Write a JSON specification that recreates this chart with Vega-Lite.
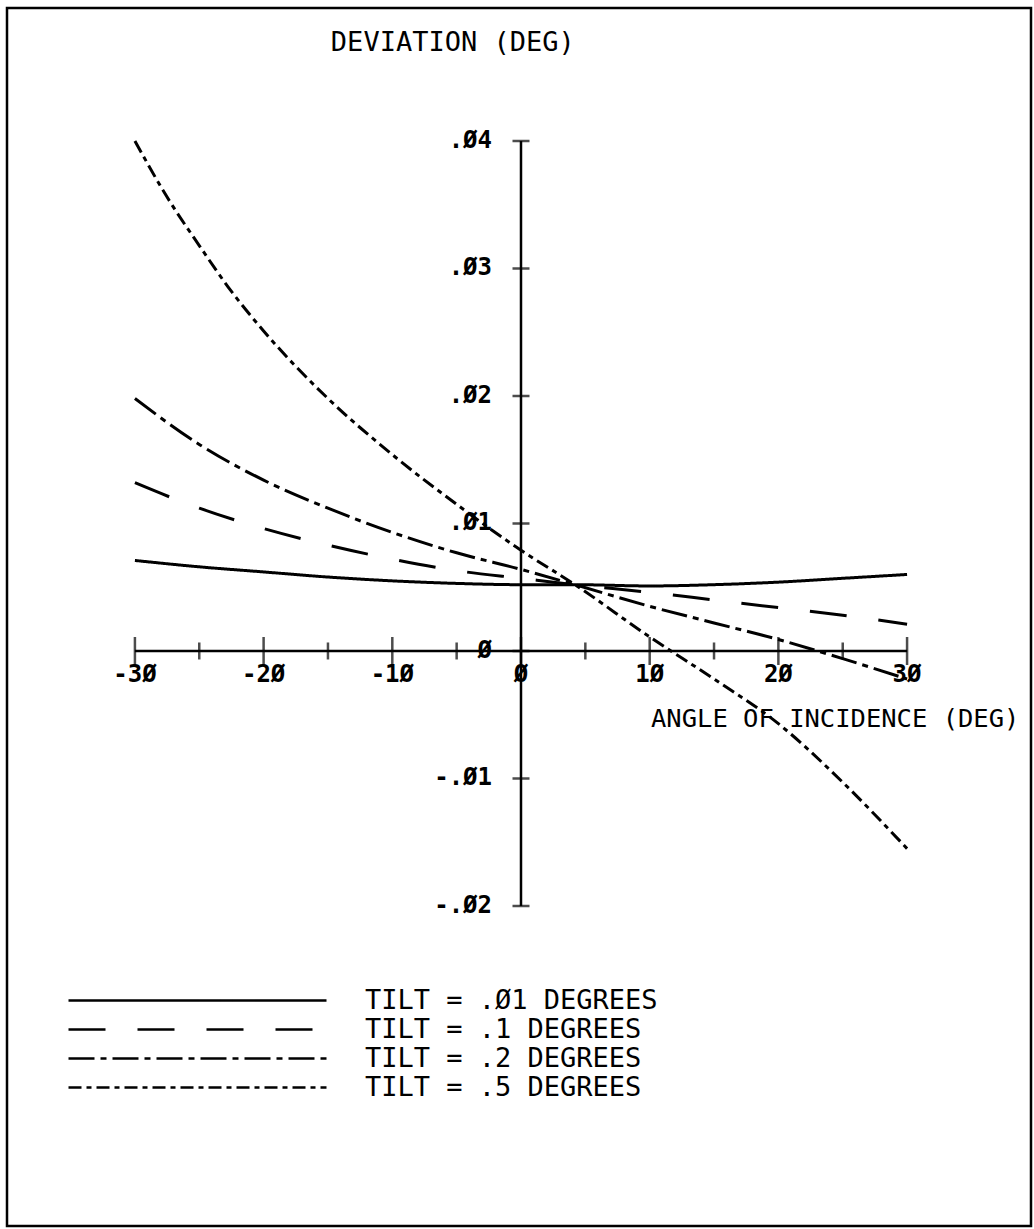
{
  "$schema": "https://vega.github.io/schema/vega-lite/v6.json",
  "width": 1034,
  "height": 1229,
  "autosize": {"type": "fit", "contains": "padding"},
  "padding": {"left": 7, "top": 8, "right": 3, "bottom": 3},
  "background": "white",
  "config": {
    "view": {"stroke": "black", "strokeWidth": 2.5},
    "text": {"font": "DejaVu Sans Mono", "color": "black"}
  },
  "datasets": {
    "curves": [
      {"tilt": "TILT = .Ø1 DEGREES", "angle": -30, "dev": 0.0071},
      {"tilt": "TILT = .Ø1 DEGREES", "angle": -25, "dev": 0.0066},
      {"tilt": "TILT = .Ø1 DEGREES", "angle": -20, "dev": 0.0062},
      {"tilt": "TILT = .Ø1 DEGREES", "angle": -15, "dev": 0.0058},
      {"tilt": "TILT = .Ø1 DEGREES", "angle": -10, "dev": 0.0055},
      {"tilt": "TILT = .Ø1 DEGREES", "angle": -5, "dev": 0.0053},
      {"tilt": "TILT = .Ø1 DEGREES", "angle": 0, "dev": 0.0052},
      {"tilt": "TILT = .Ø1 DEGREES", "angle": 4.2, "dev": 0.0052},
      {"tilt": "TILT = .Ø1 DEGREES", "angle": 10, "dev": 0.0051},
      {"tilt": "TILT = .Ø1 DEGREES", "angle": 15, "dev": 0.0052},
      {"tilt": "TILT = .Ø1 DEGREES", "angle": 20, "dev": 0.0054},
      {"tilt": "TILT = .Ø1 DEGREES", "angle": 25, "dev": 0.0057},
      {"tilt": "TILT = .Ø1 DEGREES", "angle": 30, "dev": 0.0060},
      {"tilt": "TILT = .1 DEGREES", "angle": -30, "dev": 0.0132},
      {"tilt": "TILT = .1 DEGREES", "angle": -25, "dev": 0.0112},
      {"tilt": "TILT = .1 DEGREES", "angle": -20, "dev": 0.0096},
      {"tilt": "TILT = .1 DEGREES", "angle": -15, "dev": 0.0083},
      {"tilt": "TILT = .1 DEGREES", "angle": -10, "dev": 0.0072},
      {"tilt": "TILT = .1 DEGREES", "angle": -5, "dev": 0.0063},
      {"tilt": "TILT = .1 DEGREES", "angle": 0, "dev": 0.0057},
      {"tilt": "TILT = .1 DEGREES", "angle": 4.2, "dev": 0.0052},
      {"tilt": "TILT = .1 DEGREES", "angle": 10, "dev": 0.0046},
      {"tilt": "TILT = .1 DEGREES", "angle": 15, "dev": 0.0040},
      {"tilt": "TILT = .1 DEGREES", "angle": 20, "dev": 0.0034},
      {"tilt": "TILT = .1 DEGREES", "angle": 25, "dev": 0.0028},
      {"tilt": "TILT = .1 DEGREES", "angle": 30, "dev": 0.0021},
      {"tilt": "TILT = .2 DEGREES", "angle": -30, "dev": 0.0198},
      {"tilt": "TILT = .2 DEGREES", "angle": -25, "dev": 0.0162},
      {"tilt": "TILT = .2 DEGREES", "angle": -20, "dev": 0.0134},
      {"tilt": "TILT = .2 DEGREES", "angle": -15, "dev": 0.0112},
      {"tilt": "TILT = .2 DEGREES", "angle": -10, "dev": 0.0093},
      {"tilt": "TILT = .2 DEGREES", "angle": -5, "dev": 0.0077},
      {"tilt": "TILT = .2 DEGREES", "angle": 0, "dev": 0.0064},
      {"tilt": "TILT = .2 DEGREES", "angle": 4.2, "dev": 0.0052},
      {"tilt": "TILT = .2 DEGREES", "angle": 10, "dev": 0.0035},
      {"tilt": "TILT = .2 DEGREES", "angle": 15, "dev": 0.0022},
      {"tilt": "TILT = .2 DEGREES", "angle": 20, "dev": 0.0009},
      {"tilt": "TILT = .2 DEGREES", "angle": 25, "dev": -0.0006},
      {"tilt": "TILT = .2 DEGREES", "angle": 30, "dev": -0.0022},
      {"tilt": "TILT = .5 DEGREES", "angle": -30, "dev": 0.0400},
      {"tilt": "TILT = .5 DEGREES", "angle": -27.5, "dev": 0.0356},
      {"tilt": "TILT = .5 DEGREES", "angle": -25, "dev": 0.0318},
      {"tilt": "TILT = .5 DEGREES", "angle": -22.5, "dev": 0.0282},
      {"tilt": "TILT = .5 DEGREES", "angle": -20, "dev": 0.0251},
      {"tilt": "TILT = .5 DEGREES", "angle": -15, "dev": 0.0198},
      {"tilt": "TILT = .5 DEGREES", "angle": -10, "dev": 0.0154},
      {"tilt": "TILT = .5 DEGREES", "angle": -5, "dev": 0.0115},
      {"tilt": "TILT = .5 DEGREES", "angle": 0, "dev": 0.0079},
      {"tilt": "TILT = .5 DEGREES", "angle": 4.2, "dev": 0.0052},
      {"tilt": "TILT = .5 DEGREES", "angle": 10, "dev": 0.0011},
      {"tilt": "TILT = .5 DEGREES", "angle": 15, "dev": -0.0022},
      {"tilt": "TILT = .5 DEGREES", "angle": 20, "dev": -0.0057},
      {"tilt": "TILT = .5 DEGREES", "angle": 25, "dev": -0.0103},
      {"tilt": "TILT = .5 DEGREES", "angle": 30, "dev": -0.0155}
    ],
    "xticks": [
      {"v": -30, "major": true, "label": "-3Ø"},
      {"v": -25, "major": false, "label": ""},
      {"v": -20, "major": true, "label": "-2Ø"},
      {"v": -15, "major": false, "label": ""},
      {"v": -10, "major": true, "label": "-1Ø"},
      {"v": -5, "major": false, "label": ""},
      {"v": 0, "major": true, "label": "Ø"},
      {"v": 5, "major": false, "label": ""},
      {"v": 10, "major": true, "label": "1Ø"},
      {"v": 15, "major": false, "label": ""},
      {"v": 20, "major": true, "label": "2Ø"},
      {"v": 25, "major": false, "label": ""},
      {"v": 30, "major": true, "label": "3Ø"}
    ],
    "yticks": [
      {"v": 0.04, "label": ".Ø4"},
      {"v": 0.03, "label": ".Ø3"},
      {"v": 0.02, "label": ".Ø2"},
      {"v": 0.01, "label": ".Ø1"},
      {"v": 0, "label": "Ø"},
      {"v": -0.01, "label": "-.Ø1"},
      {"v": -0.02, "label": "-.Ø2"}
    ]
  },
  "encoding": {
    "x": {"type": "quantitative", "scale": {"domain": [-39.94, 39.63], "nice": false, "zero": false}, "axis": null},
    "y": {"type": "quantitative", "scale": {"domain": [-0.0451, 0.05043], "nice": false, "zero": false}, "axis": null}
  },
  "layer": [
    {
      "data": {"values": [{}]},
      "mark": {"type": "rule", "color": "black", "strokeWidth": 2.5},
      "encoding": {"x": {"datum": -30, "type": "quantitative"}, "x2": {"datum": 30}, "y": {"datum": 0, "type": "quantitative"}}
    },
    {
      "data": {"values": [{}]},
      "mark": {"type": "rule", "color": "black", "strokeWidth": 2.5},
      "encoding": {"y": {"datum": -0.02, "type": "quantitative"}, "y2": {"datum": 0.04}, "x": {"datum": 0, "type": "quantitative"}}
    },
    {
      "data": {"name": "xticks"},
      "mark": {"type": "tick", "orient": "vertical", "color": "black", "thickness": 2.5},
      "encoding": {
        "x": {"field": "v", "type": "quantitative"},
        "y": {"datum": 0, "type": "quantitative"},
        "size": {"condition": {"test": "datum.major", "value": 28}, "value": 17}
      }
    },
    {
      "data": {"name": "xticks"},
      "transform": [{"filter": "datum.major"}],
      "mark": {"type": "text", "fontSize": 24, "fontWeight": "bold", "align": "center", "baseline": "middle", "dy": 24},
      "encoding": {
        "x": {"field": "v", "type": "quantitative"},
        "y": {"datum": 0, "type": "quantitative"},
        "text": {"field": "label"}
      }
    },
    {
      "data": {"name": "yticks"},
      "mark": {"type": "tick", "orient": "horizontal", "color": "black", "thickness": 2.5, "size": 17},
      "encoding": {
        "y": {"field": "v", "type": "quantitative"},
        "x": {"datum": 0, "type": "quantitative"}
      }
    },
    {
      "data": {"name": "yticks"},
      "mark": {"type": "text", "fontSize": 24, "fontWeight": "bold", "align": "right", "baseline": "middle", "dx": -29},
      "encoding": {
        "y": {"field": "v", "type": "quantitative"},
        "x": {"datum": 0, "type": "quantitative"},
        "text": {"field": "label"}
      }
    },
    {
      "data": {"values": [{"t": "DEVIATION  (DEG)"}]},
      "mark": {"type": "text", "fontSize": 27, "align": "center", "baseline": "middle"},
      "encoding": {
        "x": {"datum": -5.3, "type": "quantitative"},
        "y": {"datum": 0.0477, "type": "quantitative"},
        "text": {"field": "t"}
      }
    },
    {
      "data": {"values": [{"t": "ANGLE OF INCIDENCE (DEG)"}]},
      "mark": {"type": "text", "fontSize": 25.5, "align": "left", "baseline": "middle"},
      "encoding": {
        "x": {"datum": 10.1, "type": "quantitative"},
        "y": {"datum": -0.0053, "type": "quantitative"},
        "text": {"field": "t"}
      }
    },
    {
      "data": {"name": "curves"},
      "mark": {"type": "line", "color": "black", "strokeWidth": 3, "interpolate": "monotone"},
      "encoding": {
        "x": {"field": "angle", "type": "quantitative"},
        "y": {"field": "dev", "type": "quantitative"},
        "strokeDash": {
          "field": "tilt",
          "type": "nominal",
          "scale": {
            "domain": ["TILT = .Ø1 DEGREES", "TILT = .1 DEGREES", "TILT = .2 DEGREES", "TILT = .5 DEGREES"],
            "range": [[1, 0], [37, 32], [26, 6, 6, 6], [13, 5, 5, 5]]
          },
          "legend": {
            "orient": "none",
            "legendX": 60,
            "legendY": 978,
            "title": null,
            "symbolType": "stroke",
            "symbolSize": 66564,
            "symbolStrokeWidth": 2.5,
            "symbolStrokeColor": "black",
            "clipHeight": 29,
            "labelFont": "DejaVu Sans Mono",
            "labelFontSize": 27,
            "labelColor": "black",
            "labelOffset": 37,
            "labelLimit": 0,
            "rowPadding": 0
          }
        }
      }
    }
  ]
}
